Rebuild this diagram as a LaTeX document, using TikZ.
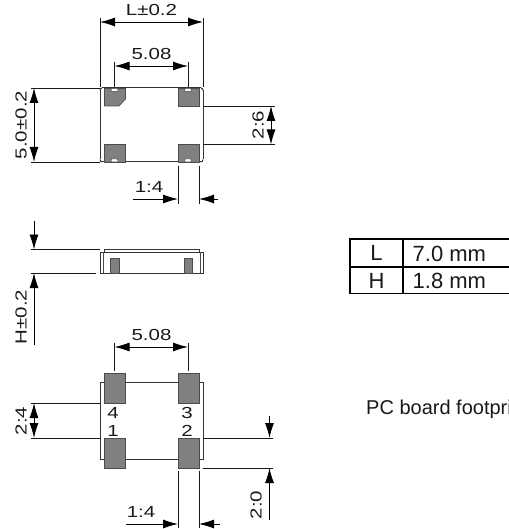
\documentclass[tikz,border=0pt]{standalone}
\usepackage{fontspec}
\usepackage{graphicx}
\setmainfont{Liberation Sans}
\usetikzlibrary{arrows.meta}
\newcommand\dimtxt[1]{\scalebox{1.28}[1]{\fontsize{16}{16}\selectfont #1}}
\tikzset{
  x=1pt,y=-1pt,
  ext/.style={line width=0.9pt,black!90},
  tip/.style={-{Latex[length=15pt,width=9pt]},line width=0.9pt,black},
  both/.style={{Latex[length=15pt,width=9pt]}-{Latex[length=15pt,width=9pt]},line width=0.9pt,black},
  body/.style={line width=1pt,black!80},
  pad/.style={fill=black!50,draw=black!70,line width=0.6pt},
  notch/.style={fill=white,draw=black!70,line width=0.5pt,rounded corners=1pt},
  lab/.style={inner sep=0pt,text=black!90},
  cell/.style={inner sep=0pt,text=black!90},
}
\begin{document}
\begin{tikzpicture}
\useasboundingbox (0,0) rectangle (508,529);
% ---------- top view
\draw[body] (102,88) -- (201,88) (102,162) -- (201,162);
\draw[body] (100,90.5) -- (100,159.5) (203,90.5) -- (203,159.5);
\draw[body] (100,90.5) to[out=90,in=180] (102,88) (201,88) to[out=0,in=90] (203,90.5)
            (100,159.5) to[out=-90,in=180] (102,162) (201,162) to[out=0,in=-90] (203,159.5);
\fill[pad] (104.5,88.5) -- (125.5,88.5) -- (125.5,99) -- (119,106) -- (104.5,106) -- cycle;
\fill[pad] (178,88.5) rectangle (199,106);
\fill[pad] (104.5,144.5) rectangle (125.5,162);
\fill[pad] (178,144.5) rectangle (199,162);
\foreach \x in {114.5,188}{
  \path[notch] (\x-3.5,88.5) rectangle (\x+3.5,91.5);
  \path[notch] (\x-3.5,159) rectangle (\x+3.5,162);
}
% L dim
\draw[ext] (100,18) -- (100,87) (203,18) -- (203,87);
\coordinate (La) at (100,22); \coordinate (Lb) at (203,22);
\draw[both] (La) -- (Lb);
\node[lab] (Lt) at (151.5,9.5) {\dimtxt{L±0.2}};
% 5.08 dim
\draw[ext] (114.5,62) -- (114.5,87) (188,62) -- (188,87);
\coordinate (Pa) at (114.5,66); \coordinate (Pb) at (188,66);
\draw[both] (Pa) -- (Pb);
\node[lab] (Pt) at (151.5,53.5) {\dimtxt{5.08}};
% 5.0 dim
\draw[ext] (31,88) -- (100,88) (31,162) -- (100,162);
\coordinate (Wa) at (34,88); \coordinate (Wb) at (34,162);
\draw[both] (Wa) -- (Wb);
\node[lab,rotate=90] (Wt) at (21,125) {\dimtxt{5.0±0.2}};
% 2.6 dim
\draw[ext] (203,106) -- (275,106) (203,144.5) -- (275,144.5);
\coordinate (Ga) at (271,106); \coordinate (Gb) at (271,144.5);
\draw[both] (Ga) -- (Gb);
\node[lab,rotate=90] (Gt) at (258,125) {\dimtxt{2:6}};
% 1.4 dim
\draw[ext] (178,166) -- (178,204) (199,166) -- (199,204);
\coordinate (Aa) at (133,199); \coordinate (Ab) at (178,199);
\coordinate (Ac) at (218,199); \coordinate (Ad) at (199,199);
\draw[tip] (Aa) -- (Ab);
\draw[tip] (Ac) -- (Ad);
\node[lab] (At) at (149,187) {\dimtxt{1:4}};
% ---------- side view
\draw[body] (100,252) rectangle (203,273);
\draw[line width=0.7pt,black!70] (103,252) -- (103,273) (200.5,252) -- (200.5,273);
\draw[body] (104.5,252) -- (104.5,249.5) -- (199,249.5) -- (199,252);
\fill[pad] (110.5,258) rectangle (119,273);
\fill[pad] (184,258) rectangle (192.5,273);
\draw[ext] (31,249.5) -- (100,249.5) (31,273) -- (96,273);
\coordinate (Ha) at (34,221); \coordinate (Hb) at (34,249.5);
\coordinate (Hc) at (34,345); \coordinate (Hd) at (34,273);
\draw[tip] (Ha) -- (Hb);
\draw[tip] (Hc) -- (Hd);
\node[lab,rotate=90] (Ht) at (21,317) {\dimtxt{H±0.2}};
% ---------- footprint
\draw[body] (125,382) -- (178,382) (125,459) -- (178,459);
\draw[body] (104,382) -- (100,382) -- (100,459) -- (104,459);
\draw[body] (199,382) -- (203,382) -- (203,459) -- (199,459);
\fill[pad] (104.5,373.5) rectangle (125.5,403);
\fill[pad] (178,373.5) rectangle (199,403);
\fill[pad] (104.5,438) rectangle (125.5,468);
\fill[pad] (178,438) rectangle (199,468);
\draw[ext] (114.5,343) -- (114.5,371) (188,343) -- (188,371);
\coordinate (Qa) at (114.5,347); \coordinate (Qb) at (188,347);
\draw[both] (Qa) -- (Qb);
\node[lab] (Qt) at (151.5,334.5) {\dimtxt{5.08}};
\draw[ext] (31,403) -- (100,403) (31,438) -- (100,438);
\coordinate (Ra) at (34,403); \coordinate (Rb) at (34,438);
\draw[both] (Ra) -- (Rb);
\node[lab,rotate=90] (Rt) at (21,421) {\dimtxt{2:4}};
\node[lab] (n4) at (113,413) {\dimtxt{4}};
\node[lab] (n3) at (187,413) {\dimtxt{3}};
\node[lab] (n1) at (113,431) {\dimtxt{1}};
\node[lab] (n2) at (187,431) {\dimtxt{2}};
\draw[ext] (203,438) -- (273,438) (203,468) -- (273,468);
\coordinate (Sa) at (269.5,416); \coordinate (Sb) at (269.5,438);
\coordinate (Sc) at (269.5,520); \coordinate (Sd) at (269.5,468);
\draw[tip] (Sa) -- (Sb);
\draw[tip] (Sc) -- (Sd);
\node[lab,rotate=90] (St) at (256,505) {\dimtxt{2:0}};
\draw[ext] (178,471) -- (178,528) (199,471) -- (199,528);
\coordinate (Ba) at (126,524); \coordinate (Bb) at (178,524);
\coordinate (Bc) at (220,524); \coordinate (Bd) at (199,524);
\draw[tip] (Ba) -- (Bb);
\draw[tip] (Bc) -- (Bd);
\node[lab] (Bt) at (141,512) {\dimtxt{1:4}};
% ---------- table
\draw[line width=1.6pt,black] (510,239) -- (350,239) -- (350,293.5) -- (510,293.5)
  (350,267) -- (510,267) (403,239) -- (403,293.5);
\node[cell] (cL) at (376.5,253) {\fontsize{22}{22}\selectfont L};
\node[cell] (cH) at (376.5,280.5) {\fontsize{22}{22}\selectfont H};
\node[cell,anchor=base west] (cv1) at (412.5,261) {\fontsize{22}{22}\selectfont 7.0 mm};
\node[cell,anchor=base west] (cv2) at (412.5,288) {\fontsize{22}{22}\selectfont 1.8 mm};
\node[cell,anchor=base west] (pc) at (366,414) {\fontsize{20}{20}\selectfont PC board footpri};
\end{tikzpicture}
\end{document}
